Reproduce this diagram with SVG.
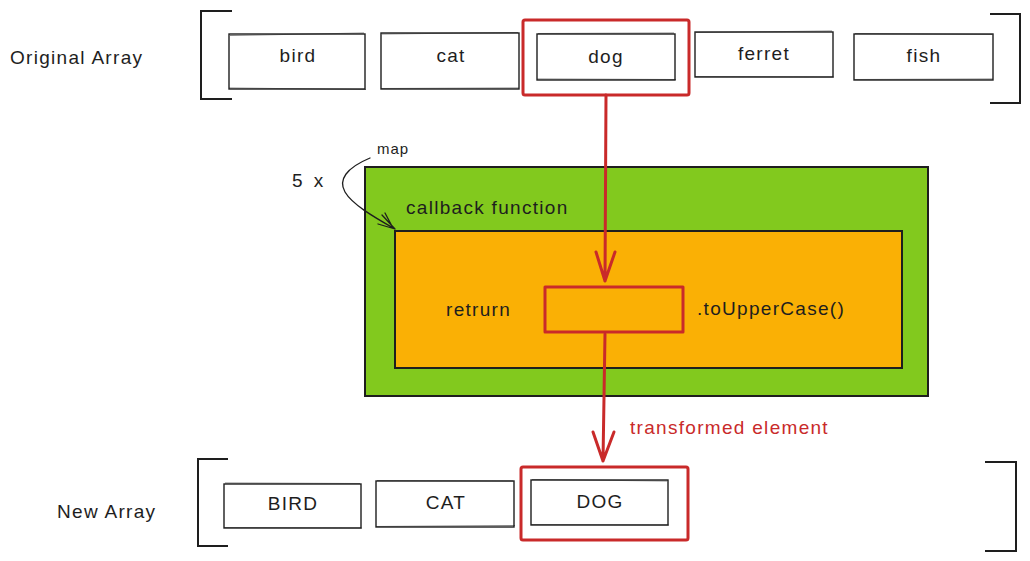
<svg xmlns="http://www.w3.org/2000/svg" width="1030" height="561" viewBox="0 0 1030 561">
<defs>
<style>
.t{font-family:"Liberation Sans","DejaVu Sans",sans-serif;font-size:19px;letter-spacing:1.3px;fill:#1e1e1e}
.c{text-anchor:middle}
.el{fill:#fff;stroke:#1e1e1e;stroke-width:1.4}
.el2{fill:none;stroke:#1e1e1e;stroke-width:0.8;opacity:0.7}
.br{fill:none;stroke:#1e1e1e;stroke-width:2}
.hl{fill:none;stroke:#c92a2a;stroke-width:3;stroke-linejoin:round}
.ar{fill:none;stroke:#c92a2a;stroke-width:3;stroke-linecap:round;stroke-linejoin:round}
.red{fill:#c92a2a}
</style>
</defs>
<rect width="1030" height="561" fill="#fff"/>

<g id="label-original"><text class="t" x="10" y="64">Original Array</text></g>
<g id="label-new"><text class="t" x="57" y="518">New Array</text></g>

<g id="bracket-orig-left"><path class="br" d="M232,11 H201 V99 H232"/></g>
<g id="bracket-orig-right"><path class="br" d="M990,14 H1020 V103 H990"/></g>
<g id="bracket-new-left"><path class="br" d="M228,459 H198 V546 H228"/></g>
<g id="bracket-new-right"><path class="br" d="M985,462 H1016 V551 H985"/></g>

<g id="bird"><rect class="el" x="229" y="34" width="136" height="55"/><path class="el2" d="M230,35.5 L364,33 M229,88 L366,89.5"/><text class="t c" x="298" y="62">bird</text></g>
<g id="cat"><rect class="el" x="381" y="33" width="138" height="56"/><path class="el2" d="M382,34 L518,32.5 M381,88.5 L519,88"/><text class="t c" x="451" y="62">cat</text></g>
<g id="dog-highlight"><rect class="hl" x="523" y="20" width="166" height="75" rx="2"/></g>
<g id="dog"><rect class="el" x="537" y="34" width="138" height="46"/><path class="el2" d="M538,33.5 L674,33 M537,79 L676,79.5"/><text class="t c" x="606" y="63">dog</text></g>
<g id="ferret"><rect class="el" x="695" y="32" width="138" height="45"/><path class="el2" d="M696,32.5 L832,31 M695,76.5 L834,77"/><text class="t c" x="764" y="60">ferret</text></g>
<g id="fish"><rect class="el" x="854" y="34" width="139" height="46"/><path class="el2" d="M855,33.5 L992,34.5 M854,79.5 L993,79"/><text class="t c" x="924" y="62">fish</text></g>

<g id="callback">
<rect x="365" y="167" width="563" height="229" fill="#82c91e" stroke="#1e1e1e" stroke-width="2"/>
<text class="t" x="406" y="214">callback function</text>
</g>
<g id="body">
<rect x="395" y="231" width="507" height="137" fill="#fab005" stroke="#1e1e1e" stroke-width="2"/>
<text class="t" x="446" y="316">retrurn</text>
<text class="t" x="697" y="315">.toUpperCase()</text>
</g>
<g id="slot"><rect class="hl" x="545" y="287" width="138" height="45"/></g>

<g id="label-map"><text class="t" x="377" y="154" style="font-size:15px;letter-spacing:1px">map</text></g>
<g id="label-5x"><text class="t" x="292" y="187" style="letter-spacing:3px">5 x</text></g>
<g id="label-transformed"><text class="t red" x="630" y="434">transformed element</text></g>

<g id="bottom-highlight"><rect class="hl" x="521" y="467" width="167" height="73" rx="2"/></g>
<g id="BIRD"><rect class="el" x="224" y="484" width="137" height="44"/><path class="el2" d="M225,483 L360,483.5 M224,527.5 L362,528"/><text class="t c" x="293" y="510">BIRD</text></g>
<g id="CAT"><rect class="el" x="376" y="481" width="138" height="46"/><path class="el2" d="M377,480.5 L513,481 M376,526.5 L515,525.5"/><text class="t c" x="446" y="509">CAT</text></g>
<g id="DOG"><rect class="el" x="531" y="480" width="137" height="45"/><path class="el2" d="M532,479.5 L667,481 M531,524.5 L669,525"/><text class="t c" x="600" y="508">DOG</text></g>

<g id="connectors">
<path class="ar" d="M606,95 L605,281 M596,252 L605,281 M615,252 L605,281"/>
<path class="ar" d="M605,334 L603,461 M593,432 L603,461 M614,432 L603,461"/>
<path fill="none" stroke="#1e1e1e" stroke-width="1.3" stroke-linecap="round" d="M370,158 C346,168 338,180 345,192 C352,204 372,216 395,229 M395,229 L382,215 M395,229 L378,224 M393,228 L385,213"/>
</g>
</svg>
